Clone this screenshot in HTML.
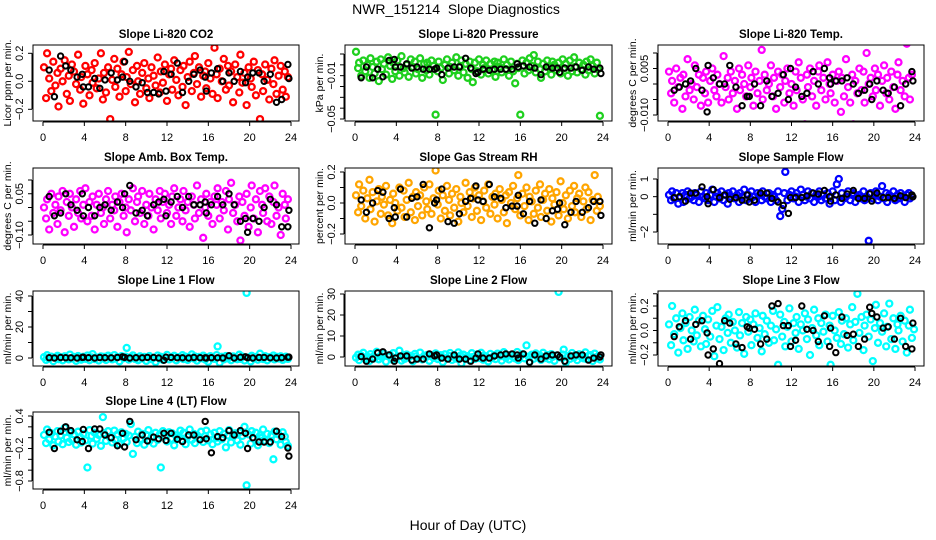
<!DOCTYPE html>
<html><head><meta charset="utf-8"><style>
html,body{margin:0;padding:0;background:#fff;}
svg{display:block;font-family:"Liberation Sans",sans-serif;}
</style></head><body>
<svg id="chart" width="936" height="540" viewBox="0 0 936 540" xmlns="http://www.w3.org/2000/svg">
<rect width="936" height="540" fill="#fff"/>
<text x="456" y="14" text-anchor="middle" font-size="14" style="white-space:pre" xml:space="preserve">NWR_151214  Slope Diagnostics</text>
<text x="468" y="530" text-anchor="middle" font-size="14">Hour of Day (UTC)</text>
</svg>
<script>
const hours=[0.1,0.3,0.4,0.6,0.8,1.0,1.2,1.4,1.5,1.7,1.9,2.1,2.3,2.5,2.6,2.8,3.0,3.2,3.4,3.6,3.7,3.9,4.1,4.3,4.5,4.7,4.8,5.0,5.2,5.4,5.6,5.8,5.9,6.1,6.3,6.5,6.7,6.9,7.0,7.2,7.4,7.6,7.8,8.0,8.1,8.3,8.5,8.7,8.9,9.1,9.2,9.4,9.6,9.8,10.0,10.2,10.3,10.5,10.7,10.9,11.1,11.3,11.4,11.6,11.8,12.0,12.2,12.4,12.5,12.7,12.9,13.1,13.3,13.5,13.6,13.8,14.0,14.2,14.4,14.6,14.7,14.9,15.1,15.3,15.5,15.7,15.8,16.0,16.2,16.4,16.6,16.8,16.9,17.1,17.3,17.5,17.7,17.9,18.0,18.2,18.4,18.6,18.8,19.0,19.1,19.3,19.5,19.7,19.9,20.1,20.2,20.4,20.6,20.8,21.0,21.2,21.3,21.5,21.7,21.9,22.1,22.3,22.4,22.6,22.8,23.0,23.2,23.4,23.5,23.7,23.9];
const blackHours=[0.6,1.1,1.7,2.2,2.7,3.3,3.8,3.9,4.4,5.0,5.5,6.0,6.6,7.2,7.7,7.9,8.4,9.0,9.6,10.1,10.7,11.2,11.7,11.9,12.4,13.0,13.5,14.1,14.6,15.2,15.7,15.8,16.3,16.9,17.4,18.0,18.5,19.1,19.6,19.8,20.3,20.9,21.4,22.0,22.6,23.1,23.7,23.8];
const xTicks=[0,4,8,12,16,20,24];

const co2=[0.10,-0.12,0.20,0.02,-0.07,0.14,-0.03,0.06,-0.18,0.09,0.00,0.15,-0.09,0.04,-0.14,0.12,0.07,-0.02,0.19,-0.06,0.03,-0.16,0.11,0.05,-0.10,0.08,-0.01,0.13,-0.05,0.02,0.20,-0.13,0.06,-0.08,0.10,-0.27,0.01,0.16,-0.04,0.09,-0.11,0.05,0.14,-0.07,0.03,0.21,-0.02,0.08,-0.15,0.11,0.00,-0.09,0.06,0.13,-0.05,0.02,-0.12,0.10,0.04,-0.03,0.17,-0.08,0.07,-0.01,0.12,-0.14,0.05,0.09,-0.06,0.15,0.01,-0.10,0.08,-0.04,0.11,-0.17,0.03,0.14,-0.07,0.06,0.18,-0.02,0.10,-0.11,0.04,0.07,-0.05,0.13,0.02,-0.09,0.24,0.05,-0.12,0.09,0.00,0.16,-0.06,0.11,-0.03,0.07,-0.15,0.12,0.03,-0.08,0.19,-0.01,0.06,-0.17,0.10,0.02,-0.04,0.14,-0.10,0.08,-0.27,0.05,-0.07,0.12,0.01,-0.13,0.09,-0.02,0.15,-0.09,0.04,0.11,-0.06,0.07,-0.11,0.03];
const co2Black=[0.08,-0.11,0.18,0.11,0.08,0.03,0.05,-0.04,-0.04,0.02,-0.05,0.01,0.06,0.01,0.03,0.14,0.00,-0.04,-0.01,-0.08,-0.08,-0.09,0.07,-0.07,0.05,0.13,-0.08,0.00,0.05,0.08,0.03,-0.07,0.06,0.09,0.00,0.06,0.00,0.07,-0.01,0.03,0.06,0.06,0.00,0.05,-0.15,-0.13,0.12,0.02];
const pres=[0.012,-0.003,0.002,-0.010,0.004,-0.006,0.000,-0.012,0.006,-0.002,-0.008,0.003,-0.015,0.005,-0.004,0.001,-0.009,0.007,-0.001,-0.013,0.002,-0.006,0.004,-0.010,0.008,-0.003,-0.007,0.000,-0.011,0.005,-0.002,0.003,-0.008,-0.004,0.006,-0.012,0.001,-0.005,0.002,-0.009,0.004,-0.001,-0.046,-0.006,0.003,-0.003,-0.014,0.000,0.005,-0.008,-0.002,0.002,-0.005,0.007,-0.010,-0.001,0.004,-0.007,0.001,-0.012,0.003,-0.004,-0.016,0.002,-0.006,0.005,-0.009,0.000,-0.003,0.004,-0.008,0.001,-0.005,0.003,-0.011,0.002,-0.002,-0.007,0.005,-0.004,0.000,-0.010,0.003,-0.006,-0.017,0.001,-0.003,-0.046,0.004,-0.008,0.002,-0.005,0.006,-0.001,0.009,-0.007,0.003,-0.004,-0.012,0.001,-0.006,0.004,-0.002,-0.009,0.003,0.000,-0.005,0.002,-0.008,0.005,-0.003,0.001,-0.010,0.004,-0.006,0.007,-0.002,-0.007,0.002,-0.004,0.000,-0.009,0.003,-0.005,0.005,-0.001,-0.008,0.002,-0.004,-0.047];
const presBlack=[-0.012,-0.002,-0.012,-0.004,-0.011,0.004,0.005,-0.002,-0.002,0.001,-0.003,-0.002,-0.004,-0.004,-0.004,-0.003,-0.009,-0.003,-0.002,-0.002,0.006,-0.003,-0.008,-0.007,-0.004,-0.005,-0.004,-0.004,-0.004,-0.004,0.001,-0.002,-0.001,-0.002,-0.003,-0.009,-0.002,-0.003,-0.003,-0.007,-0.003,-0.003,-0.002,-0.005,-0.002,-0.004,-0.003,-0.008];
const temp=[0.004,-0.003,0.001,-0.006,0.005,-0.001,0.002,-0.008,0.003,-0.004,0.008,-0.002,0.000,-0.005,0.006,-0.001,0.003,-0.007,0.002,-0.003,0.004,-0.006,0.001,0.005,-0.002,-0.004,0.003,0.000,-0.006,0.009,-0.001,0.002,-0.005,0.004,-0.003,0.001,-0.008,0.005,-0.002,0.003,0.000,-0.004,0.006,-0.001,0.002,-0.007,0.004,-0.003,0.001,0.011,-0.005,0.003,-0.002,0.000,0.006,-0.004,0.002,-0.008,0.004,-0.001,0.003,-0.006,0.001,0.005,-0.003,0.000,-0.007,0.004,-0.002,0.007,0.002,-0.005,-0.013,0.003,-0.001,0.005,-0.004,0.001,-0.007,0.004,0.006,-0.002,0.002,-0.005,0.007,0.000,-0.003,0.003,-0.006,0.001,0.004,-0.009,0.002,-0.004,0.008,-0.001,-0.006,0.003,-0.013,0.001,-0.003,0.005,-0.002,0.004,-0.006,0.010,0.000,0.002,-0.004,0.005,-0.002,0.003,-0.007,0.001,0.006,-0.003,0.002,-0.005,0.004,-0.001,-0.008,0.003,0.007,-0.002,0.001,-0.004,0.013,0.002,-0.005,0.003];
const tempBlack=[-0.002,-0.001,0.000,0.001,0.005,-0.002,-0.009,0.006,0.002,0.000,0.000,0.006,-0.001,-0.007,-0.004,-0.004,0.000,-0.007,0.001,-0.004,-0.003,0.003,-0.005,0.005,-0.001,-0.004,-0.003,0.004,0.000,0.005,0.002,0.000,0.001,0.001,0.002,0.000,-0.003,-0.002,0.000,-0.005,0.001,-0.002,-0.003,-0.001,-0.007,0.000,0.004,0.001];
const amb=[0.00,-0.04,0.03,-0.08,0.05,-0.02,0.01,-0.06,0.04,-0.01,0.06,-0.09,0.02,-0.03,0.05,0.00,-0.07,0.03,-0.02,0.06,-0.04,0.01,0.07,-0.05,0.02,-0.03,0.04,-0.08,0.01,0.05,-0.02,0.00,-0.06,0.03,0.06,-0.04,0.01,-0.01,0.04,-0.07,0.02,0.05,-0.03,0.00,-0.09,0.03,-0.01,0.07,-0.05,0.02,0.04,-0.02,0.06,-0.06,0.01,-0.03,0.05,0.00,-0.08,0.03,-0.01,0.06,-0.04,0.02,0.05,-0.02,0.01,-0.06,0.04,0.07,-0.03,0.00,0.03,-0.05,0.06,-0.01,0.02,-0.07,0.04,0.01,-0.04,0.08,-0.02,0.03,-0.11,0.00,0.05,-0.03,0.02,-0.06,0.04,0.01,0.07,-0.04,0.02,-0.01,0.06,-0.08,0.03,0.09,-0.02,0.01,-0.05,0.04,-0.12,0.02,-0.03,0.05,-0.07,0.00,0.08,-0.04,0.03,-0.09,0.06,0.01,-0.02,0.07,-0.05,0.04,-0.06,0.02,0.08,-0.03,0.00,-0.10,0.05,0.01,-0.04,0.03];
const ambBlack=[0.04,-0.03,-0.02,0.05,0.01,-0.01,0.05,-0.03,0.00,-0.03,0.00,0.01,-0.01,0.02,0.00,0.05,0.08,-0.02,-0.01,-0.03,0.01,0.02,0.03,-0.03,0.02,0.04,0.00,0.04,0.01,0.01,0.02,-0.02,0.01,0.04,0.01,0.05,0.01,-0.05,-0.04,-0.09,-0.04,-0.05,0.00,0.03,0.01,-0.07,-0.07,-0.01];
const rh=[0.05,-0.06,0.12,-0.02,0.08,-0.10,0.03,0.15,-0.04,0.07,-0.12,0.01,0.09,-0.07,0.04,-0.01,0.11,-0.08,0.02,-0.13,0.06,0.00,-0.05,0.10,-0.03,0.08,-0.09,0.02,0.13,-0.06,0.04,-0.11,0.07,-0.02,0.05,-0.08,0.10,0.01,-0.04,0.12,-0.07,0.03,0.21,-0.01,0.08,-0.10,0.05,-0.05,0.11,0.02,-0.08,0.06,-0.03,0.09,-0.12,0.04,0.00,-0.06,0.13,-0.02,0.07,-0.09,0.03,0.10,-0.05,0.05,-0.11,0.01,0.08,-0.03,0.12,-0.07,0.04,-0.01,0.06,-0.10,0.09,0.02,-0.06,0.05,-0.13,0.07,0.00,0.11,-0.04,0.03,0.18,-0.08,0.06,-0.02,0.10,-0.11,0.04,0.01,-0.07,0.08,-0.03,0.12,-0.09,0.02,0.06,-0.05,0.09,-0.12,0.03,-0.01,0.07,-0.08,0.14,0.00,-0.04,0.05,-0.10,0.08,-0.02,0.11,-0.06,0.03,0.06,-0.09,0.01,0.10,-0.04,0.07,-0.11,0.02,0.18,-0.05,0.04,-0.02];
const rhBlack=[0.02,-0.06,0.00,0.08,0.07,-0.10,-0.03,-0.09,0.09,-0.09,0.03,0.04,0.12,-0.16,0.00,0.02,0.09,-0.12,-0.13,-0.07,0.01,0.03,0.11,0.02,0.01,0.12,0.04,0.03,-0.03,-0.02,-0.02,0.05,-0.07,0.01,-0.13,0.02,-0.10,-0.05,-0.04,0.00,-0.14,-0.06,0.01,-0.06,-0.03,0.01,0.01,-0.08];
const sflow=[0.1,-0.2,0.3,-0.1,0.2,-0.4,0.0,0.2,-0.3,0.1,0.3,-0.1,0.0,-0.2,0.2,0.1,-0.3,0.3,0.0,-0.1,0.2,-0.2,0.1,0.4,-0.3,0.0,0.2,-0.1,0.3,-0.2,0.1,-0.4,0.2,0.0,0.3,-0.1,0.1,-0.3,0.2,0.0,0.4,-0.2,0.1,-0.1,0.3,0.0,-0.3,0.2,0.1,-0.2,0.3,0.0,-0.1,0.2,-0.3,0.1,0.0,-0.2,0.3,-1.1,-0.7,0.2,1.4,-0.2,0.1,0.3,-0.1,0.0,0.2,-0.3,0.4,0.1,-0.2,0.0,0.3,-0.1,0.2,-0.3,0.1,0.0,0.3,-0.2,0.1,-0.1,0.2,-0.4,0.0,0.3,-0.2,0.7,1.0,-0.3,0.2,-0.1,0.0,0.3,-0.2,0.1,0.2,-0.3,0.0,0.1,-0.1,0.3,-0.2,0.0,-2.5,0.2,-0.1,0.1,0.3,-0.2,0.0,0.6,-0.1,0.2,-0.3,0.1,0.0,0.3,-0.2,0.1,-0.1,0.2,0.0,-0.3,0.1,0.2,-0.1,0.0];
const sflowBlack=[-0.05,0.0,-0.25,0.2,0.2,0.55,0.0,-0.4,0.4,-0.05,0.1,-0.15,-0.05,-0.2,0.1,-0.3,-0.2,0.2,0.2,-0.1,-0.3,-0.5,-0.95,-0.05,-0.05,-0.05,0.05,0.2,0.15,0.35,0.0,-0.25,0.1,-0.1,0.15,0.35,-0.1,-0.1,0.15,-0.25,0.2,-0.05,-0.05,-0.1,0.05,-0.05,0.1,0.0];
const l1=[0.5,-1.2,1.8,-0.4,0.9,-2.0,0.2,1.4,-0.8,0.6,-1.5,1.1,0.0,-0.9,2.2,-0.3,0.7,-1.8,1.3,0.1,-1.1,0.8,-0.5,1.6,-1.4,0.4,2.5,-0.7,0.3,-1.6,1.0,-0.2,0.8,-1.3,1.5,0.0,-0.9,1.9,-0.4,0.6,-2.1,1.2,-0.1,0.9,6.5,-1.0,0.5,1.7,-0.6,0.2,-1.4,1.1,-0.3,0.7,-1.9,0.4,1.3,-0.8,0.1,-2.6,1.6,-0.5,0.8,-1.2,0.3,2.0,-0.9,0.6,-0.2,1.4,-1.5,0.5,0.0,1.8,-0.7,0.9,-1.3,0.2,2.3,-0.4,1.0,-1.7,0.7,-0.1,1.5,-1.0,0.4,-2.4,1.2,0.0,-0.6,1.9,7.5,-3.0,0.8,-0.9,1.3,-0.3,0.6,-1.4,1.0,0.2,-0.8,2.1,-0.5,0.9,-1.6,42.0,0.3,-2.2,1.4,-0.4,0.7,-1.1,2.8,0.1,-0.7,1.2,-1.5,0.5,0.0,1.6,-0.9,0.8,-0.3,1.1,-1.2,0.4,0.9,-0.6];
const l1Black=[0.2,0.0,0.3,0.2,0.1,0.0,0.4,0.5,0.2,0.0,0.3,0.2,0.1,0.3,0.8,0.4,0.0,0.2,0.1,0.4,0.3,0.0,-1.5,0.5,0.4,0.2,0.1,0.0,0.3,0.2,0.1,0.0,0.2,0.1,0.0,1.5,0.0,0.5,0.8,0.2,0.0,0.3,0.4,0.1,0.0,0.2,0.5,0.6];
const l2=[-0.3,1.1,-1.5,0.6,2.0,-0.8,0.2,-1.9,1.4,0.0,-0.6,2.5,-1.1,0.7,-0.2,1.6,-2.2,0.4,0.9,-1.3,1.8,-0.5,0.1,3.0,-1.7,0.8,-0.9,1.2,-0.1,0.5,-2.0,1.5,0.3,-0.7,2.1,-1.2,0.6,0.0,1.0,-1.8,0.4,-0.4,1.7,-1.0,0.2,0.9,-2.4,1.3,-0.6,0.5,1.9,-1.4,0.1,-0.8,2.2,0.7,-3.0,1.1,-0.3,0.4,-1.6,1.8,0.0,-0.9,1.2,-0.5,2.0,-1.3,0.6,0.2,-2.1,1.5,-0.2,0.9,-1.0,1.6,0.3,-1.7,2.3,-0.4,0.8,-1.2,1.0,0.0,-0.7,2.4,-1.5,0.5,1.3,-0.6,5.5,0.2,-2.3,1.1,-0.8,1.7,-0.1,0.6,-1.4,2.0,-0.5,0.9,-1.1,1.4,0.0,-1.8,0.7,31.0,-0.3,1.2,3.5,-2.6,0.4,-0.9,1.9,-0.2,0.8,-1.5,1.3,0.1,-0.6,2.2,-1.0,0.5,0.9,-1.9,1.6,-0.4,0.3,-1.2];
const l2Black=[0.2,-2.0,-1.0,2.0,2.5,1.0,-2.0,-0.5,0.5,0.5,-1.5,-1.0,-1.0,1.5,0.5,1.0,-0.5,-1.0,1.0,-1.0,-1.0,-2.0,-0.5,1.5,-0.5,-0.5,0.5,1.0,1.5,1.5,1.0,-0.5,1.5,-2.5,1.0,-1.0,0.5,1.0,1.0,0.0,-2.0,0.5,1.0,1.0,-1.5,-0.5,0.0,1.0];
const l3=[0.05,-0.12,0.20,-0.03,0.10,-0.18,0.02,0.14,-0.08,0.06,-0.15,0.11,0.00,-0.09,0.17,-0.04,0.08,-0.13,0.12,0.01,-0.11,0.09,-0.05,0.16,-0.21,0.04,0.19,-0.07,0.03,-0.16,0.10,-0.02,0.13,-0.10,0.07,0.00,-0.14,0.15,-0.04,0.06,-0.19,0.11,-0.01,0.09,-0.12,0.05,0.14,-0.06,0.02,-0.17,0.12,-0.03,0.08,-0.10,0.04,0.16,-0.08,0.01,-0.28,0.13,-0.05,0.07,-0.13,0.03,0.18,-0.09,0.06,-0.02,0.11,-0.15,0.05,0.00,0.14,-0.07,0.09,-0.20,0.02,0.17,-0.04,0.10,-0.12,0.06,-0.01,0.13,-0.09,0.04,-0.28,0.12,0.00,-0.06,0.15,-0.11,0.08,-0.03,0.10,-0.14,0.05,0.19,-0.08,0.07,0.30,-0.02,0.11,-0.16,0.04,0.13,-0.05,0.09,-0.25,0.02,0.21,-0.10,0.06,-0.01,0.14,-0.13,0.03,0.22,-0.07,0.10,-0.15,0.05,0.00,0.12,-0.09,0.08,-0.18,0.04,0.17,-0.06,0.01];
const l3Black=[-0.05,0.03,0.08,-0.07,0.05,0.08,-0.02,-0.20,-0.15,-0.27,0.08,0.06,-0.11,-0.14,0.03,0.02,0.01,-0.11,-0.07,0.20,0.22,0.04,0.04,-0.13,-0.08,0.20,0.01,0.00,-0.09,0.12,-0.13,0.02,-0.18,0.11,-0.04,-0.03,-0.13,-0.07,0.19,0.14,0.11,0.02,0.03,-0.07,0.10,-0.13,-0.15,0.06];
const l4=[0.05,-0.10,0.15,-0.03,0.08,-0.14,0.02,0.12,-0.07,0.04,-0.12,0.18,0.00,-0.08,0.10,-0.04,0.06,-0.13,0.11,0.01,-0.09,0.07,-0.05,-0.55,0.14,0.03,-0.11,0.09,-0.02,0.05,-0.15,0.38,0.08,-0.06,0.12,0.00,-0.09,0.13,-0.04,0.06,-0.12,0.10,-0.01,0.07,-0.08,0.04,0.25,-0.30,0.02,-0.10,0.11,-0.03,0.07,-0.13,0.05,0.14,-0.06,0.01,-0.11,0.09,-0.04,0.06,-0.55,0.12,0.03,-0.07,0.10,-0.02,0.08,-0.14,0.04,0.00,0.13,-0.06,0.09,-0.12,0.02,0.15,-0.04,0.07,-0.10,0.05,-0.01,0.11,-0.08,0.03,0.13,-0.05,0.06,-0.12,0.09,0.00,-0.07,0.12,-0.03,0.07,-0.18,0.04,0.14,-0.09,0.02,0.08,-0.05,0.10,-0.13,0.03,0.20,-0.88,0.06,-0.11,0.12,-0.02,0.09,-0.14,0.04,0.00,0.15,-0.06,0.07,-0.10,0.05,-0.40,0.11,-0.03,0.06,-0.13,0.10,0.02,-0.08,-0.15];
const l4Black=[0.10,-0.20,0.12,0.20,0.13,-0.04,-0.07,0.15,-0.20,0.16,0.16,0.05,0.00,-0.15,0.08,-0.17,0.30,-0.04,0.05,-0.06,0.01,-0.02,0.08,-0.05,0.08,-0.03,-0.07,0.05,0.05,-0.04,0.30,-0.02,-0.28,0.02,0.00,0.13,0.05,0.13,0.08,-0.20,0.00,-0.08,-0.08,-0.08,0.12,0.02,-0.19,-0.34];

const panels=[
 {name:'co2',title:'Slope Li-820 CO2',ylab:'Licor ppm per min.',col:'#ff0000',ys:co2,bys:co2Black,L:33,R:299,T:45,B:121,x0:43,x1:291,v0:0.2,p0:53.3,v1:-0.2,p1:109.3,ticks:[-0.2,0,0.2],labs:[[-0.2,'\u22120.2'],[0,'0.0'],[0.2,'0.2']]},
 {name:'pressure',title:'Slope Li-820 Pressure',ylab:'kPa per min.',col:'#1ed01e',ys:pres,bys:presBlack,L:345,R:612,T:45,B:121,x0:355,x1:603,v0:0.01,p0:54,v1:-0.05,p1:119,ticks:[0.01,0,-0.01,-0.02,-0.03,-0.04,-0.05],labs:[[-0.01,'\u22120.01'],[-0.05,'\u22120.05']]},
 {name:'temp',title:'Slope Li-820 Temp.',ylab:'degrees C per min.',col:'#ff00ff',ys:temp,bys:tempBlack,L:658,R:924,T:45,B:121,x0:668,x1:915,v0:0.01,p0:53,v1:-0.01,p1:115,ticks:[0.01,0.005,0,-0.005,-0.01],labs:[[0.005,'0.005'],[-0.01,'\u22120.010']]},
 {name:'amb-box-temp',title:'Slope Amb. Box Temp.',ylab:'degrees C per min.',col:'#ff00ff',ys:amb,bys:ambBlack,L:33,R:299,T:168,B:244,x0:43,x1:291,v0:0.1,p0:180,v1:-0.1,p1:235,ticks:[0.1,0.05,0,-0.05,-0.1],labs:[[0.05,'0.05'],[-0.1,'\u22120.10']]},
 {name:'gas-stream-rh',title:'Slope Gas Stream RH',ylab:'percent per min.',col:'#ffa500',ys:rh,bys:rhBlack,L:345,R:612,T:168,B:244,x0:355,x1:603,v0:0.2,p0:172,v1:-0.2,p1:234,ticks:[0.2,0.1,0,-0.1,-0.2],labs:[[0.2,'0.2'],[0,'0.0'],[-0.2,'\u22120.2']]},
 {name:'sample-flow',title:'Slope Sample Flow',ylab:'ml/min per min.',col:'#0000ff',ys:sflow,bys:sflowBlack,L:658,R:924,T:168,B:244,x0:668,x1:915,v0:1,p0:179,v1:-2,p1:232,ticks:[1,0,-1,-2],labs:[[1,'1'],[0,'0'],[-2,'\u22122']]},
 {name:'line1-flow',title:'Slope Line 1 Flow',ylab:'ml/min per min.',col:'#00ffff',ys:l1,bys:l1Black,L:33,R:299,T:291,B:366,x0:43,x1:291,v0:40,p0:296,v1:0,p1:358,ticks:[0,10,20,30,40],labs:[[0,'0'],[20,'20'],[40,'40']]},
 {name:'line2-flow',title:'Slope Line 2 Flow',ylab:'ml/min per min.',col:'#00ffff',ys:l2,bys:l2Black,L:345,R:612,T:291,B:366,x0:355,x1:603,v0:30,p0:294,v1:0,p1:357,ticks:[0,10,20,30],labs:[[0,'0'],[10,'10'],[20,'20'],[30,'30']]},
 {name:'line3-flow',title:'Slope Line 3 Flow',ylab:'ml/min per min.',col:'#00ffff',ys:l3,bys:l3Black,L:658,R:924,T:291,B:366,x0:668,x1:915,v0:0.2,p0:306,v1:-0.2,p1:355,ticks:[0.3,0.2,0.1,0,-0.1,-0.2],labs:[[0.2,'0.2'],[0,'0.0'],[-0.2,'\u22120.2']]},
 {name:'line4-flow',title:'Slope Line 4 (LT) Flow',ylab:'ml/min per min.',col:'#00ffff',ys:l4,bys:l4Black,L:33,R:299,T:412,B:489,x0:43,x1:291,v0:0.4,p0:416,v1:-0.8,p1:481,ticks:[0.4,0.2,0,-0.2,-0.4,-0.6,-0.8],labs:[[0.4,'0.4'],[-0.2,'\u22120.2'],[-0.8,'\u22120.8']]}
];
const NS='http://www.w3.org/2000/svg';
const svg=document.getElementById('chart');
function mk(tag,attrs,parent){const e=document.createElementNS(NS,tag);for(const k in attrs)e.setAttribute(k,attrs[k]);(parent||svg).appendChild(e);return e;}
panels.forEach(p=>{
  const g=mk('g',{});
  
  
  const xs=h=>p.x0+(h/24)*(p.x1-p.x0);
  const ysc=v=>p.p0+(v-p.v0)*(p.p1-p.p0)/(p.v1-p.v0);
  const clip='clip-'+p.name;
  const cp=mk('clipPath',{id:clip},g);mk('rect',{x:p.L,y:p.T,width:p.R-p.L,height:p.B-p.T},cp);
  const pts=mk('g',{'clip-path':'url(#'+clip+')'},g);
  
  
  const n=Math.min(hours.length,p.ys.length);
  for(let i=0;i<n;i++){
    const c=mk('circle',{cx:xs(hours[i]).toFixed(1),cy:ysc(p.ys[i]).toFixed(1),r:3,fill:'none',stroke:p.col,'stroke-width':2.3},pts);
    
    
  }
  const nb=Math.min(blackHours.length,p.bys.length);
  for(let i=0;i<nb;i++){
    const c=mk('circle',{cx:xs(blackHours[i]).toFixed(1),cy:ysc(p.bys[i]).toFixed(1),r:2.7,fill:'none',stroke:'#000','stroke-width':2},pts);
    
    
  }
  const box=mk('rect',{x:p.L,y:p.T,width:p.R-p.L,height:p.B-p.T,fill:'none',stroke:'#000','stroke-width':1},g);
  
  
  const xa=mk('g',{},g);
  
  
  mk('line',{x1:xs(0),x2:xs(24),y1:p.B+1,y2:p.B+1,stroke:'#000'},xa);
  xTicks.forEach(t=>{
    mk('line',{x1:xs(t),x2:xs(t),y1:p.B+1,y2:p.B+5,stroke:'#000'},xa);
    const tx=mk('text',{x:xs(t),y:p.B+20,'text-anchor':'middle','font-size':11},xa);
    
    
    tx.textContent=t;
  });
  const ya=mk('g',{},g);
  
  
  const tp=p.ticks.map(ysc);
  mk('line',{x1:p.L-1,x2:p.L-1,y1:Math.min(...tp),y2:Math.max(...tp),stroke:'#000'},ya);
  p.ticks.forEach(t=>{mk('line',{x1:p.L-5,x2:p.L-1,y1:ysc(t),y2:ysc(t),stroke:'#000'},ya);});
  p.labs.forEach(l=>{
    const yy=ysc(l[0]);const xx=p.L-10;
    const tx=mk('text',{x:xx,y:yy,'text-anchor':'middle','font-size':11,transform:'rotate(-90 '+xx+' '+yy+')'},ya);
    
    
    tx.textContent=l[1];
  });
  const yl=mk('text',{x:p.L-22,y:(p.T+p.B)/2,'text-anchor':'middle','font-size':10.5,transform:'rotate(-90 '+(p.L-22)+' '+((p.T+p.B)/2)+')'},g);
  
  
  yl.textContent=p.ylab;
  const tt=mk('text',{x:(p.L+p.R)/2,y:p.T-7,'text-anchor':'middle','font-size':11.5,'font-weight':'bold'},g);
  
  
  tt.textContent=p.title;
});
</script>
</body></html>
